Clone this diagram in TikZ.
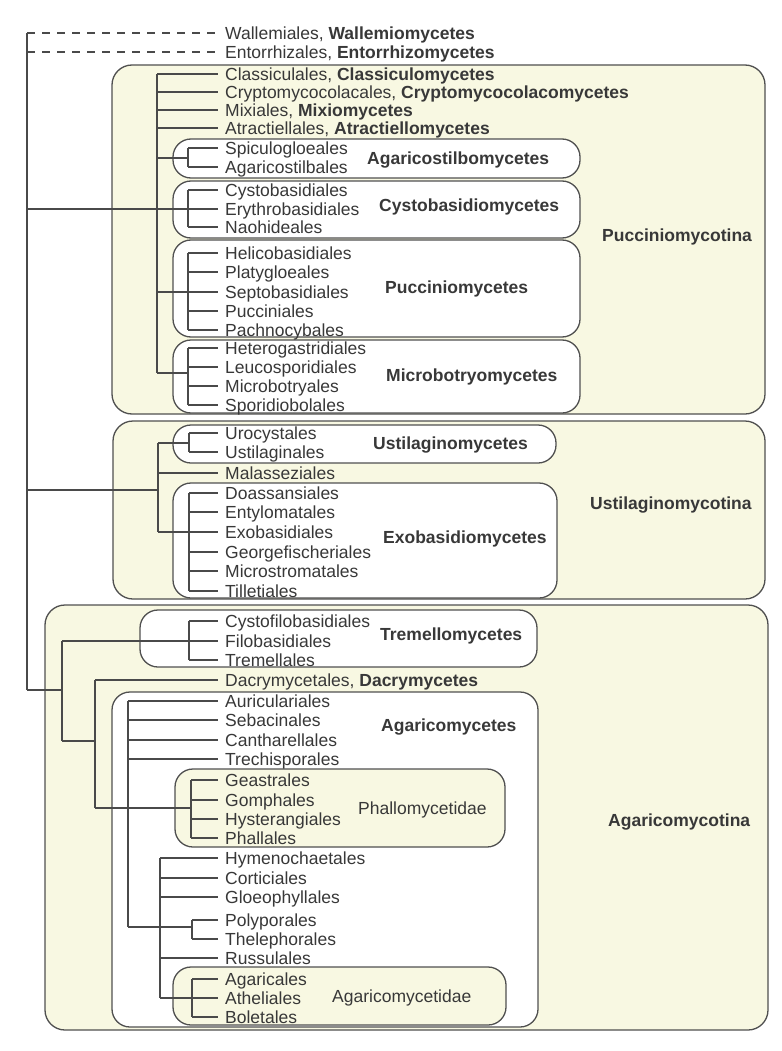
\documentclass[tikz,border=0pt]{standalone}
\usepackage{fontspec}
\setmainfont{Liberation Sans}
\definecolor{txt}{HTML}{383838}
\definecolor{ln}{HTML}{4A4A4A}
\definecolor{bx}{HTML}{505050}
\definecolor{yel}{HTML}{F8F8E2}
\newcommand\fs{\fontsize{17.5}{19}\selectfont}
\newcommand\mkleaf[4]{%
  \node[leaf] (#1) at (225,#3) {#4};
  \draw[br] (#2,#3) -- ([xshift=-7pt]#1.west);}
\begin{document}
\begin{tikzpicture}[x=1pt,y=-1pt,
  leaf/.style={anchor=west,inner sep=0pt,text height=12.6pt,text depth=0pt,font=\fs,text=txt},
  grp/.style={leaf,font=\fs\bfseries},
  grpn/.style={leaf},
  br/.style={draw=ln,line width=1.6pt},
  dsh/.style={draw=ln,line width=1.4pt,dash pattern=on 8pt off 7pt},
  outerbox/.style={draw=bx,line width=1.3pt,fill=yel,rounded corners=20pt},
  whitebox/.style={draw=bx,line width=1.3pt,fill=white,rounded corners=18pt},
  yelbox/.style={draw=bx,line width=1.3pt,fill=yel,rounded corners=18pt}]
\useasboundingbox (0,0) rectangle (781,1051);
\fill[white] (0,0) rectangle (781,1051);

% ---------- boxes ----------
\draw[outerbox] (112,65) rectangle (765,414);
\draw[whitebox] (173,139) rectangle (580,178);
\draw[whitebox] (173,181) rectangle (580,238);
\draw[whitebox] (173,240) rectangle (580,337);
\draw[whitebox] (173,340) rectangle (580,413);

\draw[outerbox] (113,421) rectangle (765,599);
\draw[whitebox] (173,425) rectangle (556,463);
\draw[whitebox] (173,483) rectangle (557,598);

\draw[outerbox] (45,605) rectangle (768,1030);
\draw[whitebox] (140,610) rectangle (537,667);
\draw[whitebox] (112,692) rectangle (538,1027);
\draw[yelbox] (175,769) rectangle (505,847);
\draw[yelbox] (173,967) rectangle (506,1025);

% ---------- root and outgroups ----------
\node[leaf] (wal) at (225,33) {Wallemiales, \textbf{Wallemiomycetes}};
\node[leaf] (ent) at (225,52) {Entorrhizales, \textbf{Entorrhizomycetes}};
\coordinate (rootTop) at (27,33);
\coordinate (rootEnt) at (27,52);
\coordinate (rootBot) at (27,690);
\draw[br] (rootTop) -- (rootBot);
\draw[dsh] (rootTop) -- ([xshift=-7pt]wal.west);
\draw[dsh] (rootEnt) -- ([xshift=-7pt]ent.west);

% ---------- Pucciniomycotina ----------
\draw[br] (27,209) -- (188,209);
\draw[br] (157,74) -- (157,373);
\mkleaf{cla}{157}{74}{Classiculales, \textbf{Classiculomycetes}}
\mkleaf{cry}{157}{92}{Cryptomycocolacales, \textbf{Cryptomycocolacomycetes}}
\mkleaf{mix}{157}{110}{Mixiales, \textbf{Mixiomycetes}}
\mkleaf{atr}{157}{128}{Atractiellales, \textbf{Atractiellomycetes}}

\draw[br] (157,158) -- (188,158);
\draw[br] (188,148) -- (188,167);
\mkleaf{spi}{188}{148}{Spiculogloeales}
\mkleaf{agc}{188}{167}{Agaricostilbales}
\node[grp] (gAgs) at (367,158) {Agaricostilbomycetes};

\draw[br] (188,190) -- (188,227);
\mkleaf{cyb}{188}{190}{Cystobasidiales}
\mkleaf{ery}{188}{209}{Erythrobasidiales}
\mkleaf{nao}{188}{227}{Naohideales}
\node[grp] (gCys) at (379,205) {Cystobasidiomycetes};

\draw[br] (157,292) -- (188,292);
\draw[br] (188,253) -- (188,330);
\mkleaf{hel}{188}{253}{Helicobasidiales}
\mkleaf{pla}{188}{272}{Platygloeales}
\mkleaf{sep}{188}{292}{Septobasidiales}
\mkleaf{puc}{188}{311}{Pucciniales}
\mkleaf{pac}{188}{330}{Pachnocybales}
\node[grp] (gPuc) at (385,287) {Pucciniomycetes};

\draw[br] (157,373) -- (188,373);
\draw[br] (188,348) -- (188,405);
\mkleaf{het}{188}{348}{Heterogastridiales}
\mkleaf{leu}{188}{367}{Leucosporidiales}
\mkleaf{mic}{188}{386}{Microbotryales}
\mkleaf{spo}{188}{405}{Sporidiobolales}
\node[grp] (gMic) at (386,375) {Microbotryomycetes};

\node[grp] (gPucT) at (602,235) {Pucciniomycotina};

% ---------- Ustilaginomycotina ----------
\draw[br] (27,490) -- (158,490);
\draw[br] (158,443) -- (158,532);
\draw[br] (158,443) -- (189,443);
\draw[br] (189,433) -- (189,452);
\mkleaf{uro}{189}{433}{Urocystales}
\mkleaf{ust}{189}{452}{Ustilaginales}
\node[grp] (gUst) at (373,443) {Ustilaginomycetes};
\mkleaf{mal}{158}{473}{Malasseziales}

\draw[br] (158,532) -- (189,532);
\draw[br] (189,493) -- (189,591);
\mkleaf{doa}{189}{493}{Doassansiales}
\mkleaf{ent2}{189}{512}{Entylomatales}
\mkleaf{exo}{189}{532}{Exobasidiales}
\mkleaf{geo}{189}{552}{Georgefischeriales}
\mkleaf{mst}{189}{571}{Microstromatales}
\mkleaf{til}{189}{591}{Tilletiales}
\node[grp] (gExo) at (383,537) {Exobasidiomycetes};

\node[grp] (gUstT) at (590,503) {Ustilaginomycotina};

% ---------- Agaricomycotina ----------
\draw[br] (27,690) -- (62,690);
\draw[br] (62,641) -- (62,741);
\draw[br] (62,641) -- (189,641);
\draw[br] (189,621) -- (189,660);
\mkleaf{cyf}{189}{621}{Cystofilobasidiales}
\mkleaf{fil}{189}{641}{Filobasidiales}
\mkleaf{tre}{189}{660}{Tremellales}
\node[grp] (gTre) at (380,634) {Tremellomycetes};

\draw[br] (62,741) -- (95,741);
\draw[br] (95,680) -- (95,808);
\mkleaf{dac}{95}{680}{Dacrymycetales, \textbf{Dacrymycetes}}

\draw[br] (128,701) -- (128,927);
\mkleaf{aur}{128}{701}{Auriculariales}
\mkleaf{seb}{128}{720}{Sebacinales}
\mkleaf{can}{128}{740}{Cantharellales}
\mkleaf{trc}{128}{759}{Trechisporales}
\node[grp] (gAgm) at (381,725) {Agaricomycetes};

\draw[br] (95,808) -- (191,808);
\draw[br] (191,780) -- (191,838);
\mkleaf{gea}{191}{780}{Geastrales}
\mkleaf{gom}{191}{800}{Gomphales}
\mkleaf{hys}{191}{819}{Hysterangiales}
\mkleaf{pha}{191}{838}{Phallales}
\node[grpn] (gPha) at (358,808) {Phallomycetidae};

\draw[br] (128,927) -- (192,927);
\draw[br] (160,858) -- (160,998);
\mkleaf{hym}{160}{858}{Hymenochaetales}
\mkleaf{cor}{160}{878}{Corticiales}
\mkleaf{glo}{160}{897}{Gloeophyllales}
\draw[br] (192,920) -- (192,939);
\mkleaf{pol}{192}{920}{Polyporales}
\mkleaf{the}{192}{939}{Thelephorales}
\mkleaf{rus}{160}{958}{Russulales}

\draw[br] (160,998) -- (192,998);
\draw[br] (192,979) -- (192,1017);
\mkleaf{aga}{192}{979}{Agaricales}
\mkleaf{ath}{192}{998}{Atheliales}
\mkleaf{bol}{192}{1017}{Boletales}
\node[grpn] (gAgd) at (332,996) {Agaricomycetidae};

\node[grp] (gAgmT) at (608,820) {Agaricomycotina};
\end{tikzpicture}
\end{document}
